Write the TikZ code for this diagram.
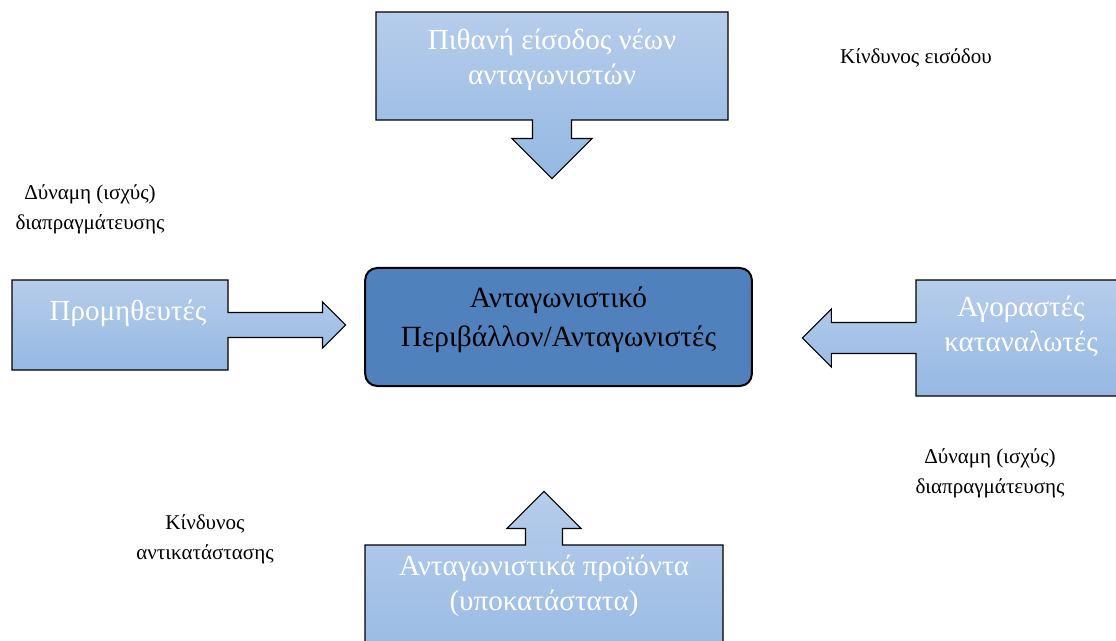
\documentclass[tikz,border=0pt]{standalone}
\usepackage{fontspec}
\setmainfont{Liberation Serif}
\usetikzlibrary{shapes.arrows}

\definecolor{boxtop}{RGB}{182,205,235}
\definecolor{boxbot}{RGB}{149,184,227}
\definecolor{corefill}{RGB}{79,129,189}

\begin{document}
\begin{tikzpicture}[
  x=0.75pt, y=-0.75pt,
  force/.style={
    arrow box,
    draw=black,
    line width=0.8pt,
    top color=boxtop,
    bottom color=boxbot,
    arrow box tip angle=90,
    arrow box head indent=0pt,
    inner sep=0pt
  },
  forcetext/.style={text=white, align=center, font=\fontsize{21.8}{26.5}\selectfont},
  core/.style={
    draw=black,
    line width=1.5pt,
    fill=corefill,
    rounded corners=9pt,
    minimum width=290pt,
    minimum height=88.5pt
  },
  note/.style={align=center, font=\fontsize{15.8}{22.5}\selectfont}
]
\useasboundingbox (0,0) rectangle (1116,641);

% =========================
% Centre
% =========================
\node[core] (env) at (558.5,327) {};
\node (envtext) at (558.5,320) [align=center, font=\fontsize{22}{29.5}\selectfont]
{Ανταγωνιστικό\\Περιβάλλον/Ανταγωνιστές};

% =========================
% Forces
% =========================
\node[force, minimum width=264pt, minimum height=81pt,
  arrow box arrows={south:43.5pt},
  arrow box shaft width=29.25pt, arrow box head extend=15.4pt] (entry) at (552,66) {};
\node[forcetext] (entrytext) at (552,60) {Πιθανή είσοδος νέων\\ανταγωνιστών};

\node[force, minimum width=162pt, minimum height=67.5pt,
  arrow box arrows={east:87.75pt},
  arrow box shaft width=18.75pt, arrow box head extend=7.9pt] (supp) at (120,325) {};
\node[forcetext] (supptext) at (128,313) {Προμηθευτές};

\node[force, minimum width=151.5pt, minimum height=87pt,
  arrow box arrows={west:84.75pt},
  arrow box shaft width=23.25pt, arrow box head extend=10.1pt] (buy) at (1017,338) {};
\node[forcetext] (buytext) at (1021,326) {Αγοραστές\\καταναλωτές};

\node[force, minimum width=268.5pt, minimum height=101.25pt,
  arrow box arrows={north:39.75pt},
  arrow box shaft width=27.75pt, arrow box head extend=13.9pt] (subst) at (544,612.5) {};
\node[forcetext] (substtext) at (544,586) {Ανταγωνιστικά προϊόντα\\(υποκατάστατα)};

% =========================
% Notes
% =========================
\node[note] (entryrisk) at (916,58) {Κίνδυνος εισόδου};
\node[note] (suppower) at (90,209) {Δύναμη (ισχύς)\\διαπραγμάτευσης};
\node[note] (buypower) at (990,473) {Δύναμη (ισχύς)\\διαπραγμάτευσης};
\node[note] (substrisk) at (205,539) {Κίνδυνος\\αντικατάστασης};

\end{tikzpicture}
\end{document}
